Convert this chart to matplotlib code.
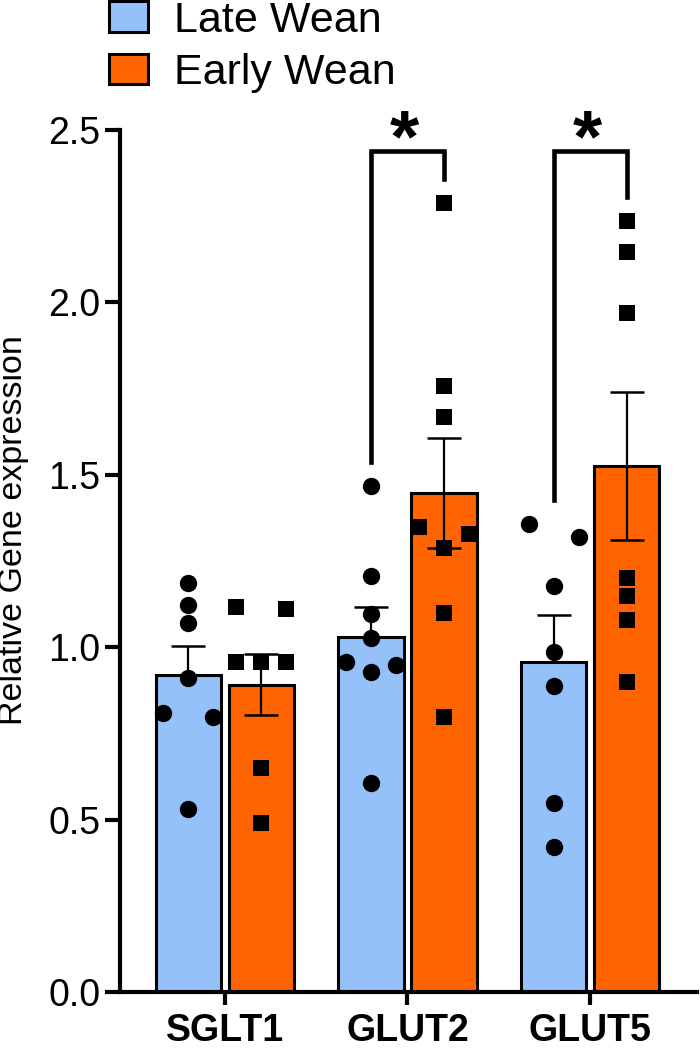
import numpy as np
import matplotlib
matplotlib.use("Agg")
import matplotlib.pyplot as plt
from matplotlib.patches import Patch

plt.rcParams["font.family"] = ["Liberation Sans", "DejaVu Sans"]

# Data (relative expression, one value per animal)
genes = ["SGLT1", "GLUT2", "GLUT5"]
groups = ["Late Wean", "Early Wean"]

late_sglt1 = [1.187, 1.122, 1.071, 0.910, 0.808, 0.798, 0.530]
late_glut2 = [1.468, 1.207, 1.096, 1.026, 0.958, 0.948, 0.929, 0.607]
late_glut5 = [1.357, 1.319, 1.178, 0.987, 0.887, 0.549, 0.420]

early_sglt1 = [1.117, 1.110, 0.958, 0.958, 0.958, 0.649, 0.489]
early_glut2 = [2.287, 1.758, 1.669, 1.350, 1.328, 1.287, 1.098, 0.798]
early_glut5 = [2.237, 2.147, 1.968, 1.200, 1.148, 1.079, 0.898]

late_values = [late_sglt1, late_glut2, late_glut5]
early_values = [early_sglt1, early_glut2, early_glut5]

# significant comparisons (gene index)
significant = [1, 2]

LATE_COLOR = "#94C1FA"
EARLY_COLOR = "#FF6400"
BAR_W = 0.36
OFFSET = 0.2


def mean_sem(vals):
    v = np.asarray(vals)
    return v.mean(), v.std(ddof=1) / np.sqrt(len(v))


def swarm_offsets(ax, vals, step_px=25.0, dia_px=17.0):
    """Prism-like scatter: points closer than a marker are spread sideways."""
    px_per_x = ax.transData.transform((1, 0))[0] - ax.transData.transform((0, 0))[0]
    px_per_y = ax.transData.transform((0, 1))[1] - ax.transData.transform((0, 0))[1]
    order = list(np.argsort(vals)[::-1])
    # chain points into clusters of overlapping markers
    clusters = [[order[0]]]
    for prev, i in zip(order[:-1], order[1:]):
        if (vals[prev] - vals[i]) * px_per_y < dia_px:
            clusters[-1].append(i)
        else:
            clusters.append([i])
    offsets = np.zeros(len(vals))
    for cl in clusters:
        if len(cl) == 1:
            slots = [0]
        elif len(cl) == 2:
            slots = [-1, 1]
        else:
            slots = [-1, 1, 0, -2, 2, -3, 3][:len(cl)]
        for i, k in zip(cl, slots):
            offsets[i] = k * step_px / px_per_x
    return offsets


fig = plt.figure(figsize=(7, 10.52), dpi=100)
ax = fig.add_axes([120 / 700, 60 / 1052, 577 / 700, 862 / 1052])
ax.set_xlim(-0.575, 2.586)
ax.set_ylim(0, 2.5)

x = np.arange(len(genes))
for series, color, sign, marker, upper_only in [
    (late_values, LATE_COLOR, -1, "o", True),
    (early_values, EARLY_COLOR, 1, "s", False),
]:
    stats = [mean_sem(v) for v in series]
    means = [m for m, _ in stats]
    sems = [s for _, s in stats]
    xpos = x + sign * OFFSET
    ax.bar(xpos, means, width=BAR_W, color=color, edgecolor="black",
           linewidth=2.2, zorder=2)
    lower = [0] * len(sems) if upper_only else sems
    ax.errorbar(xpos, means, yerr=[lower, sems], fmt="none", ecolor="black",
                elinewidth=1.6, capsize=12, capthick=1.8, zorder=3)
    for xc, vals in zip(xpos, series):
        offs = swarm_offsets(ax, vals)
        ax.plot(xc + offs, vals, linestyle="none", marker=marker,
                markersize=12.5 if marker == "o" else 12,
                markerfacecolor="black", markeredgewidth=0,
                zorder=4, clip_on=False)

# significance brackets
bracket_top = 2.44
for g in significant:
    x0, x1 = g - OFFSET, g + OFFSET
    y0 = max(late_values[g]) + 0.07
    y1 = max(early_values[g]) + 0.07
    ax.plot([x0, x0, x1, x1], [y0, bracket_top, bracket_top, y1],
            color="black", linewidth=3.3, solid_joinstyle="miter",
            clip_on=False, zorder=5)
    ax.text(g - 0.015, 2.41, "*", ha="center", va="baseline",
            fontsize=54, fontweight="bold", clip_on=False)

ax.spines["top"].set_visible(False)
ax.spines["right"].set_visible(False)
ax.spines["left"].set_linewidth(3)
ax.spines["bottom"].set_linewidth(3)

ax.set_yticks(np.arange(0, 2.51, 0.5))
ax.set_yticklabels([f"{t:.1f}" for t in np.arange(0, 2.51, 0.5)])
ax.set_xticks(x)
ax.set_xticklabels(genes, fontweight="bold")
ax.tick_params(axis="y", length=11, width=3, labelsize=27, pad=3)
ax.tick_params(axis="x", length=9, width=3, labelsize=27, pad=6)
ax.set_ylabel("Relative Gene expression", fontsize=24.5)
ax.yaxis.set_label_coords(-0.157, 0.536)

handles = [Patch(facecolor=LATE_COLOR, edgecolor="black", linewidth=2.2),
           Patch(facecolor=EARLY_COLOR, edgecolor="black", linewidth=2.2)]
fig.legend(handles, groups, loc="upper left",
           bbox_to_anchor=(100 / 700, 1 + 8 / 1052), frameon=False,
           fontsize=31, handlelength=0.92, handleheight=0.7,
           handletextpad=0.6, labelspacing=0.28, borderaxespad=0,
           borderpad=0.2)

fig.savefig("out.png", dpi=100)
